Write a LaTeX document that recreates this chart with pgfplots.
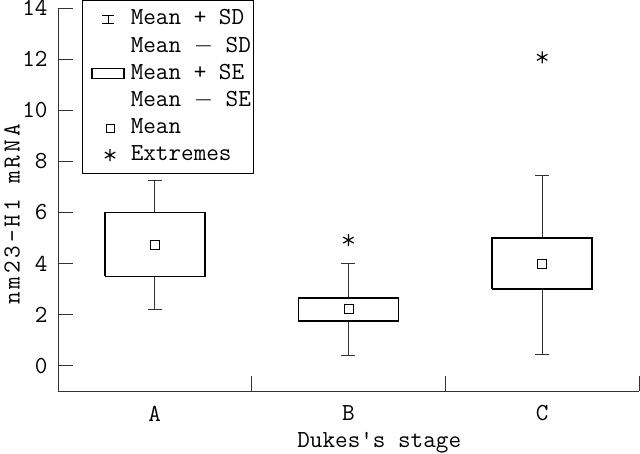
\documentclass[border=0pt]{standalone}
\usepackage{fontspec}
\usepackage{pgfplots}
\pgfplotsset{compat=1.18}
\usetikzlibrary{calc}
\newfontfamily\spacedtt{Latin Modern Mono}[LetterSpace=12]
\newcommand{\fs}{\fontsize{24.5}{28}\selectfont\ttfamily}
\begin{document}
\fs
\begin{tikzpicture}
\begin{axis}[
  width=582pt, height=384pt, scale only axis,
  xmin=-0.5, xmax=2.5, ymin=-1, ymax=14,
  axis x line*=bottom, axis y line*=left,
  axis line style={-, line width=0.8pt, black!80},
  tick align=inside,
  major tick length=15pt,
  tick style={line width=0.8pt, black!80},
  ytick={0,2,...,14},
  xtick={0.5,1.5,2.5}, xticklabels={},
  extra x ticks={0,1,2}, extra x tick labels={A,B,C},
  extra x tick style={major tick length=0pt, tick style={draw=none}},
  /pgf/number format/assume math mode=true,
  ticklabel style={font=\fs},
  yticklabel style={xshift=-2pt},
  xticklabel style={yshift=-6pt},
  label style={font=\fs},
  xlabel={Dukes\textquotesingle s stage},
  ylabel={{\spacedtt nm23-H1 mRNA}},
  every axis x label/.style={at={(axis description cs:0.553,-0.133)}, anchor=center},
  every axis y label/.style={at={(axis description cs:-0.079,0.461)}, anchor=center, rotate=90},
  legend style={at={(rel axis cs:0,1)}, anchor=north west, xshift=24pt, yshift=8pt,
    font=\fs, draw=black, line width=1.2pt, row sep=4.4pt, inner xsep=1pt, inner ysep=7pt,
    /tikz/every odd column/.append style={column sep=4pt}},
  legend cell align=left,
]
\addlegendimage{legend image code/.code={\draw[line width=0.8pt] (24pt,-4pt)--(24pt,4pt) (18pt,4pt)--(30pt,4pt) (18pt,-4pt)--(30pt,-4pt);}}
\addlegendentry{Mean + SD}
\addlegendimage{legend image code/.code={\path (0pt,0pt) (40pt,0pt);}}
\addlegendentry{Mean $-$ SD}
\addlegendimage{legend image code/.code={\path (0pt,0pt); \draw[line width=1.6pt] (8pt,-5pt) rectangle (40pt,5pt);}}
\addlegendentry{Mean + SE}
\addlegendimage{legend image code/.code={\path (0pt,0pt) (40pt,0pt);}}
\addlegendentry{Mean $-$ SE}
\addlegendimage{legend image code/.code={\path (0pt,0pt) (40pt,0pt); \draw[line width=0.8pt] (22pt,-4pt) rectangle (30pt,4pt);}}
\addlegendentry{Mean}
\addlegendimage{legend image code/.code={\path (0pt,0pt) (40pt,0pt); \draw[line width=1.2pt] plot[mark=asterisk, mark size=6pt] coordinates {(26pt,0pt)};}}
\addlegendentry{Extremes}
% whiskers (Mean +/- SD)
\addplot[black!80, line width=0.8pt, unbounded coords=jump, forget plot] coordinates {
(0,6) (0,7.27) (nan,nan) (-0.036,7.27) (0.036,7.27) (nan,nan)
(0,3.5) (0,2.19) (nan,nan) (-0.036,2.19) (0.036,2.19) (nan,nan)
(1,2.66) (1,4.02) (nan,nan) (0.964,4.02) (1.036,4.02) (nan,nan)
(1,1.76) (1,0.39) (nan,nan) (0.964,0.39) (1.036,0.39) (nan,nan)
(2,5.0) (2,7.46) (nan,nan) (1.964,7.46) (2.036,7.46) (nan,nan)
(2,3.0) (2,0.45) (nan,nan) (1.964,0.45) (2.036,0.45)
};
% boxes (Mean +/- SE)
\addplot[black, line width=1.6pt, line join=miter, forget plot] coordinates {(-0.258,3.5) (0.258,3.5) (0.258,6.0) (-0.258,6.0) (-0.258,3.5)};
\addplot[black, line width=1.6pt, line join=miter, forget plot] coordinates {(0.742,1.76) (1.258,1.76) (1.258,2.66) (0.742,2.66) (0.742,1.76)};
\addplot[black, line width=1.6pt, line join=miter, forget plot] coordinates {(1.742,3.0) (2.258,3.0) (2.258,5.0) (1.742,5.0) (1.742,3.0)};
% means
\addplot[only marks, mark=square, mark size=4.5pt, black, mark options={line width=0.8pt}, forget plot] coordinates {(0,4.73) (1,2.22) (2,4.0)};
% extremes
\addplot[only marks, mark=asterisk, mark size=6pt, black, mark options={line width=1.2pt}, forget plot] coordinates {(1,4.92) (2,12.07)};
\end{axis}
\pgfresetboundingbox
\path[use as bounding box] ($(current axis.south west)+(-58pt,-62pt)$) rectangle ($(current axis.north east)+(1pt,8pt)$);
\end{tikzpicture}
\end{document}
